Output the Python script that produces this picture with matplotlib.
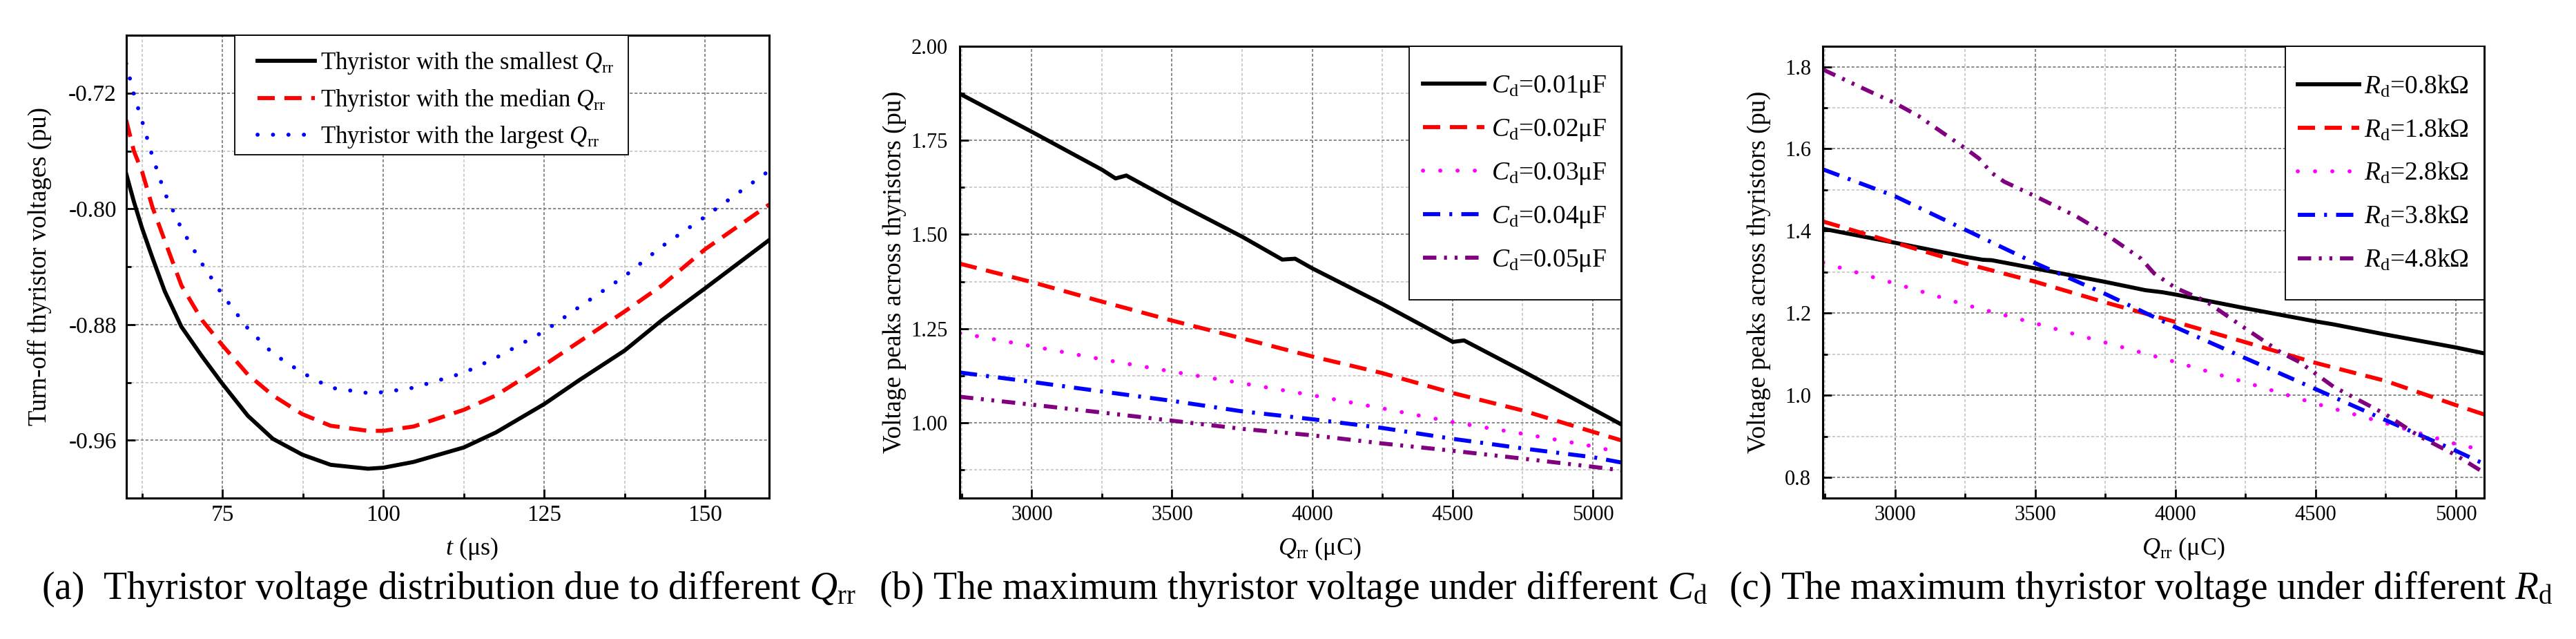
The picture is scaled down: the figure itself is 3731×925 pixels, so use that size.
import matplotlib
matplotlib.use("Agg")
import matplotlib.pyplot as plt
from matplotlib.ticker import MultipleLocator, AutoMinorLocator, FormatStrFormatter
from matplotlib.patches import Rectangle

# ---------------- data ----------------
# (a) turn-off thyristor voltages
t_us = [60, 61.2, 62.5, 64.1, 66, 68.6, 71.8, 74.9, 78.9, 82.8, 87.4, 91.8,
        97.6, 100, 104.7, 112.5, 117.5, 125, 130.4, 137.5, 143.3, 150, 160]
v_smallest = [-0.7756, -0.795, -0.8137, -0.834, -0.857, -0.8816, -0.902, -0.9206,
              -0.943, -0.959, -0.970, -0.977, -0.9797, -0.979, -0.975, -0.965,
              -0.9546, -0.935, -0.9186, -0.898, -0.877, -0.855, -0.8215]
v_median = [-0.7386, -0.760, -0.7746, -0.799, -0.822, -0.853, -0.877, -0.894,
            -0.9145, -0.929, -0.942, -0.950, -0.9535, -0.9535, -0.9505, -0.939,
            -0.929, -0.908, -0.892, -0.871, -0.853, -0.828, -0.797]
v_largest = [-0.6995, -0.721, -0.7396, -0.764, -0.789, -0.8137, -0.838, -0.859,
             -0.8826, -0.900, -0.9134, -0.9237, -0.9274, -0.9268, -0.9237, -0.9134,
             -0.903, -0.8847, -0.868, -0.8466, -0.826, -0.8055, -0.7736]
labels_a = [r'Thyristor with the smallest $Q_{\mathrm{rr}}$',
            r'Thyristor with the median $Q_{\mathrm{rr}}$',
            r'Thyristor with the largest $Q_{\mathrm{rr}}$']

# (b) voltage peaks under different Cd
q_b_c001 = [2744, 3000, 3250, 3299, 3337, 3500, 3750, 3893, 3939, 4000, 4250,
            4501, 4541, 4750, 5000, 5100]
v_b_c001 = [1.8735, 1.7727, 1.672, 1.6487, 1.6565, 1.5906, 1.494, 1.4333, 1.4356,
            1.410, 1.3155, 1.2147, 1.2186, 1.1372, 1.0365, 0.9962]
q_b = [2744, 3000, 3250, 3500, 3750, 4000, 4250, 4500, 4750, 5000, 5100]
v_b_c002 = [1.4224, 1.3736, 1.3217, 1.2713, 1.2240, 1.176, 1.1318, 1.0791, 1.0326, 0.976, 0.9536]
v_b_c003 = [1.2382, 1.2033, 1.1685, 1.1359, 1.1049, 1.0731, 1.0382, 1.0018, 0.9708, 0.9375, 0.9204]
v_b_c004 = [1.1334, 1.1086, 1.083, 1.0582, 1.0303, 1.0094, 0.9861, 0.9574, 0.9319, 0.9086, 0.8947]
v_b_c005 = [1.069, 1.0481, 1.0272, 1.0055, 0.9838, 0.9667, 0.945, 0.9257, 0.9048, 0.8831, 0.8738]
labels_b = [r'$C_{\mathrm{d}}$=0.01μF', r'$C_{\mathrm{d}}$=0.02μF', r'$C_{\mathrm{d}}$=0.03μF',
            r'$C_{\mathrm{d}}$=0.04μF', r'$C_{\mathrm{d}}$=0.05μF']

# (c) voltage peaks under different Rd
q_c_r08 = [2744, 3000, 3250, 3314, 3345, 3500, 3751, 3893, 3954, 4000, 4250,
           4500, 4562, 4750, 5000, 5100]
v_c_r08 = [1.4055, 1.3715, 1.3375, 1.330, 1.329, 1.309, 1.276, 1.256, 1.251,
           1.2455, 1.212, 1.180, 1.173, 1.148, 1.1166, 1.1024]
q_c = [2744, 3000, 3250, 3500, 3750, 4000, 4250, 4500, 4750, 5000, 5100]
v_c_r18 = [1.4232, 1.3715, 1.3212, 1.2766, 1.2263, 1.1788, 1.1293, 1.0790, 1.0351, 0.9763, 0.9537]
v_c_r28 = [1.3227, 1.2724, 1.2207, 1.1754, 1.1286, 1.0812, 1.0316, 0.9799, 0.9324, 0.8815, 0.8666]
v_c_r38 = [1.55, 1.4848, 1.4034, 1.322, 1.2469, 1.1661, 1.0904, 1.0153, 0.9395, 0.8652, 0.8333]
q_c_r48 = [2744, 2887, 3000, 3085, 3250, 3299, 3345, 3390, 3500, 3649, 3751, 3878,
           3924, 4000, 4107, 4250, 4381, 4442, 4500, 4564, 4750, 4869, 5000, 5100]
v_c_r48 = [1.793, 1.747, 1.7115, 1.6796, 1.6017, 1.577, 1.5415, 1.520, 1.4848, 1.435,
           1.3928, 1.3326, 1.297, 1.2618, 1.2299, 1.1626, 1.1024, 1.0812, 1.0528, 1.021,
           0.9537, 0.9006, 0.8545, 0.812]
labels_c = [r'$R_{\mathrm{d}}$=0.8kΩ', r'$R_{\mathrm{d}}$=1.8kΩ', r'$R_{\mathrm{d}}$=2.8kΩ',
            r'$R_{\mathrm{d}}$=3.8kΩ', r'$R_{\mathrm{d}}$=4.8kΩ']

captions = [r'(a)  Thyristor voltage distribution due to different $Q_{\mathrm{rr}}$',
            r'(b) The maximum thyristor voltage under different $C_{\mathrm{d}}$',
            r'(c) The maximum thyristor voltage under different $R_{\mathrm{d}}$']

# ---------------- style ----------------
plt.rcParams['font.family'] = ['Liberation Serif', 'DejaVu Serif']
plt.rcParams['mathtext.fontset'] = 'custom'
plt.rcParams['mathtext.rm'] = 'Liberation Serif'
plt.rcParams['mathtext.it'] = 'Liberation Serif:italic'
plt.rcParams['mathtext.bf'] = 'Liberation Serif:bold'
plt.rcParams['axes.unicode_minus'] = False
plt.rcParams['lines.scale_dashes'] = False

W, H, DPI = 3731, 925, 100
fig = plt.figure(figsize=(W / DPI, H / DPI), dpi=DPI)


def px_axes(l, t, r, b):
    return fig.add_axes([l / W, 1 - b / H, (r - l) / W, (b - t) / H])


ax_a = px_axes(182.7, 51, 1114.3, 721)
ax_b = px_axes(1389.5, 66.8, 2347.6, 721)
ax_c = px_axes(2639.7, 66.8, 3597.6, 721)

LW = 4.2
SOLID = dict(ls='-')
DASH = dict(ls=(0, (18, 10)))
DOT_A = dict(ls=(0, (0.1, 16)), dash_capstyle='round')
DOT_BC = dict(ls=(0, (0.1, 17.9)), dash_capstyle='round')
DASHDOT = dict(ls=(0, (18, 9.5, 3, 9.5)))
DASHDOTDOT = dict(ls=(0, (14, 8, 3, 8, 3, 8)))


def style_axes(ax, tick_fs, ypad):
    ax.set_axisbelow(True)
    for s in ax.spines.values():
        s.set_linewidth(2.2)
        s.set_zorder(7)
    ax.tick_params(which='both', direction='in', top=False, right=False, width=2)
    ax.tick_params(which='major', length=9.4, labelsize=tick_fs)
    ax.tick_params(which='minor', length=5)
    ax.tick_params(axis='y', which='both', pad=ypad)
    ax.tick_params(axis='x', which='both', pad=7)
    ax.grid(which='major', color='#808080', linestyle=(0, (3, 2)), linewidth=1.3)
    ax.grid(which='minor', color='#c0c0c0', linestyle=(0, (3, 2)), linewidth=1.1)


def add_legend(ax, fs, x_px, rows_px, hl_px, pad_px, box):
    handles = ax.get_lines()
    fs_px = fs * DPI / 72
    ls = 0.5
    ax_y = rows_px[0] - 0.6 * fs_px
    xa = x_px
    n = len(rows_px)
    leg = None
    for it in range(4):
        if leg is not None:
            leg.remove()
        leg = ax.legend(handles=handles, loc='upper left',
                        bbox_to_anchor=(xa / W, 1 - ax_y / H),
                        bbox_transform=fig.transFigure, frameon=False,
                        borderpad=0, borderaxespad=0, fontsize=fs,
                        handlelength=hl_px / fs_px, handletextpad=pad_px / fs_px,
                        labelspacing=ls, handleheight=0.7)
        leg.set_zorder(8)
        fig.canvas.draw()
        r = fig.canvas.get_renderer()
        ys, xs = [], []
        for h in leg.legend_handles:
            bb = h.get_window_extent(r)
            ys.append(H - 0.5 * (bb.y0 + bb.y1))
            xs.append(bb.x0)
        cur = (ys[-1] - ys[0]) / (n - 1)
        tgt = (rows_px[-1] - rows_px[0]) / (n - 1)
        ls += (tgt - cur) / fs_px
        ax_y += rows_px[0] - ys[0]
        xa += x_px - xs[0]
    x0, y0, x1, y1 = box
    rect = Rectangle((x0 / W, 1 - y1 / H), (x1 - x0) / W, (y1 - y0) / H,
                     transform=fig.transFigure, facecolor='white',
                     edgecolor='black', linewidth=1.3, zorder=7.5, clip_on=False)
    ax.add_artist(rect)
    return leg


# ---------------- panel (a) ----------------
ax = ax_a
ax.plot(t_us, v_smallest, color='black', lw=LW, label=labels_a[0], zorder=3, **SOLID)
ax.plot(t_us, v_median, color='red', lw=LW, label=labels_a[1], zorder=3, **DASH)
ax.plot(t_us, v_largest, color='blue', lw=LW, label=labels_a[2], zorder=3, **DOT_A)
ax.set_xlim(60, 160)
ax.set_ylim(-1.0, -0.68)
ax.xaxis.set_major_locator(MultipleLocator(25))
ax.xaxis.set_minor_locator(AutoMinorLocator(2))
ax.yaxis.set_major_locator(MultipleLocator(0.08))
ax.yaxis.set_minor_locator(AutoMinorLocator(2))
ax.yaxis.set_major_formatter(FormatStrFormatter('%.2f'))
style_axes(ax, 24, 10)
ax.set_xlabel(r'$t$ (μs)', fontsize=26)
ax.set_ylabel('Turn-off thyristor voltages (pu)', fontsize=26.5)
ax.xaxis.set_label_coords((683 - 182.7) / 931.6, (721 - 803) / 670)
ax.xaxis.label.set_va('baseline')
ax.yaxis.set_label_coords((57.7 - 182.7) / 931.6, 0.5)
ax.yaxis.label.set_va('center')

# ---------------- panel (b) ----------------
ax = ax_b
ax.plot(q_b_c001, v_b_c001, color='black', lw=LW, label=labels_b[0], zorder=3, **SOLID)
ax.plot(q_b, v_b_c002, color='red', lw=LW, label=labels_b[1], zorder=3, **DASH)
ax.plot(q_b, v_b_c003, color='magenta', lw=LW, label=labels_b[2], zorder=3, **DOT_BC)
ax.plot(q_b, v_b_c004, color='blue', lw=LW, label=labels_b[3], zorder=3, **DASHDOT)
ax.plot(q_b, v_b_c005, color='purple', lw=LW, label=labels_b[4], zorder=3, **DASHDOTDOT)
ax.set_xlim(2742, 5100)
ax.set_ylim(0.8, 2.0)
ax.xaxis.set_major_locator(MultipleLocator(500))
ax.xaxis.set_minor_locator(AutoMinorLocator(2))
ax.yaxis.set_major_locator(MultipleLocator(0.25))
ax.yaxis.set_minor_locator(AutoMinorLocator(2))
ax.yaxis.set_major_formatter(FormatStrFormatter('%.2f'))
style_axes(ax, 22, 12)
ax.set_xlabel(r'$Q_{\mathrm{rr}}$ (μC)', fontsize=26)
ax.set_ylabel('Voltage peaks across thyristors (pu)', fontsize=26.5)
ax.xaxis.set_label_coords((1911.7 - 1389.5) / 958.1, (721 - 803) / 654.2)
ax.xaxis.label.set_va('baseline')
ax.yaxis.set_label_coords((1296 - 1389.5) / 958.1, 0.5)
ax.yaxis.label.set_va('center')

# ---------------- panel (c) ----------------
ax = ax_c
ax.plot(q_c_r08, v_c_r08, color='black', lw=LW, label=labels_c[0], zorder=3, **SOLID)
ax.plot(q_c, v_c_r18, color='red', lw=LW, label=labels_c[1], zorder=3, **DASH)
ax.plot(q_c, v_c_r28, color='magenta', lw=LW, label=labels_c[2], zorder=3, **DOT_BC)
ax.plot(q_c, v_c_r38, color='blue', lw=LW, label=labels_c[3], zorder=3, **DASHDOT)
ax.plot(q_c_r48, v_c_r48, color='purple', lw=LW, label=labels_c[4], zorder=3, **DASHDOTDOT)
ax.set_xlim(2742, 5100)
ax.set_ylim(0.75, 1.85)
ax.xaxis.set_major_locator(MultipleLocator(500))
ax.xaxis.set_minor_locator(AutoMinorLocator(2))
ax.yaxis.set_major_locator(MultipleLocator(0.2))
ax.yaxis.set_minor_locator(AutoMinorLocator(2))
ax.yaxis.set_major_formatter(FormatStrFormatter('%.1f'))
style_axes(ax, 22, 12)
ax.set_xlabel(r'$Q_{\mathrm{rr}}$ (μC)', fontsize=26)
ax.set_ylabel('Voltage peaks across thyristors (pu)', fontsize=26.5)
ax.xaxis.set_label_coords((3162 - 2639.7) / 957.9, (721 - 803) / 654.2)
ax.xaxis.label.set_va('baseline')
ax.yaxis.set_label_coords((2548 - 2639.7) / 957.9, 0.5)
ax.yaxis.label.set_va('center')

# ---------------- legends ----------------
add_legend(ax_a, 25, 372.8, [88, 141.5, 194.5], 83, 8.4, (340.2, 51, 909.5, 224))
add_legend(ax_b, 27, 2061, [121.3, 184.1, 247.3, 310, 372.9], 89, 10, (2041, 66.8, 2347.6, 434))
add_legend(ax_c, 27, 3328, [122.1, 184.9, 247.7, 310.9, 373.7], 89, 6.6, (3309.7, 66.8, 3597.6, 434.4))

# ---------------- captions ----------------
for x_px, txt in zip([60, 1273, 2504], captions):
    fig.text(x_px / W, (H - 867) / H, txt, ha='left', va='baseline', fontsize=40)

fig.savefig('out.png', dpi=DPI)
